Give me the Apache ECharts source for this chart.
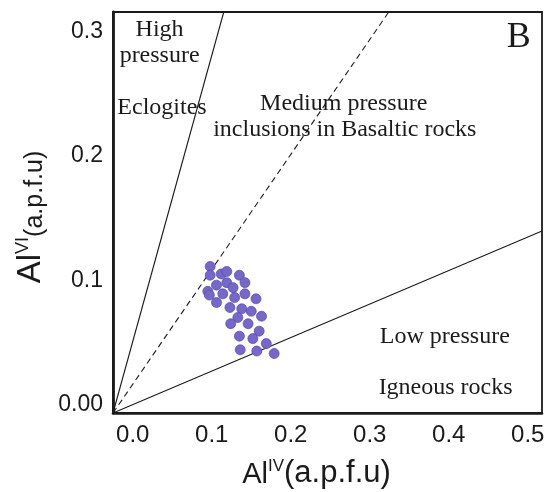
<!DOCTYPE html>
<html>
<head>
<meta charset="utf-8">
<script src="https://cdn.jsdelivr.net/npm/echarts@6/dist/echarts.min.js"></script>
<style>
  html, body { margin: 0; padding: 0; background: #fff; }
  #chart { width: 548px; height: 492px; }
</style>
</head>
<body>
<div id="chart"></div>
<script>
// Axis ranges (the diagram's field lines radiate from the lower-left corner)
const xMin = -0.025, xMax = 0.518;
const yMin = -0.0068, yMax = 0.3156;
const xTicks = [0, 0.1, 0.2, 0.3, 0.4, 0.5];
const yTicks = [0, 0.1, 0.2, 0.3];

// Amphibole analyses: AlIV vs AlVI (a.p.f.u)
const alIV = [0.098, 0.098, 0.112, 0.119, 0.135, 0.142, 0.106, 0.119, 0.095, 0.127,
              0.114, 0.097, 0.106, 0.129, 0.142, 0.156, 0.123, 0.138, 0.150, 0.133,
              0.163, 0.124, 0.146, 0.160, 0.135, 0.152, 0.169, 0.136, 0.157, 0.179];
const alVI = [0.111, 0.104, 0.105, 0.107, 0.104, 0.098, 0.096, 0.098, 0.091, 0.094,
              0.089, 0.088, 0.082, 0.086, 0.089, 0.085, 0.078, 0.077, 0.075, 0.070,
              0.071, 0.065, 0.065, 0.059, 0.055, 0.053, 0.049, 0.044, 0.043, 0.041];

// Field boundaries: end points on the frame
const highLine = [[xMin, yMin], [0.1152, yMax]];
const mediumLine = [[xMin, yMin], [0.324, yMax]];
const lowLine = [[xMin, yMin], [xMax, 0.1396]];

// Field names placed in data space
const fieldLabels = [
  { name: 'High\npressure', value: [0.034, 0.2911] },
  { name: 'Eclogites', value: [0.037, 0.2384] },
  { name: 'Medium pressure', value: [0.267, 0.2416] },
  { name: 'inclusions in Basaltic rocks', value: [0.2684, 0.2207] },
  { name: 'Low pressure', value: [0.395, 0.0543] },
  { name: 'Igneous rocks', value: [0.396, 0.0133] }
];
const panelLetter = [{ name: 'B', value: [0.4886, 0.2947] }];

const points = alIV.map((x, i) => [x, alVI[i]]);

const chart = echarts.init(document.getElementById('chart'), null, { renderer: 'canvas' });

const sans = 'Liberation Sans, Arial, sans-serif';
const serif = 'Liberation Serif, Times New Roman, serif';
const ink = '#1a1a1a';

chart.setOption({
  animation: false,
  backgroundColor: '#ffffff',
  grid: {
    left: 113, right: 6, top: 12, bottom: 79,
    containLabel: false, outerBoundsMode: 'none',
    show: true, borderColor: ink, borderWidth: 1.8, backgroundColor: 'transparent'
  },
  xAxis: {
    type: 'value', min: xMin, max: xMax,
    axisLine: { show: true, onZero: false, lineStyle: { color: ink, width: 2.6 } },
    axisTick: { show: false },
    splitLine: { show: false },
    axisLabel: {
      customValues: xTicks,
      color: ink, fontFamily: sans, fontSize: 24, margin: 10,
      formatter: v => v.toFixed(1)
    },
    name: '{al|Al}{sup|IV}{pf|(a.p.f.u)}',
    nameLocation: 'middle',
    nameGap: 45,
    nameTextStyle: {
      padding: [0, 22, 0, 0],
      rich: {
        al: { fontFamily: sans, fontSize: 29, color: ink, verticalAlign: 'bottom' },
        sup: { fontFamily: sans, fontSize: 17, color: ink, verticalAlign: 'top' },
        pf: { fontFamily: sans, fontSize: 31, color: ink, verticalAlign: 'bottom' }
      }
    }
  },
  yAxis: {
    type: 'value', min: yMin, max: yMax,
    axisLine: { show: true, onZero: false, lineStyle: { color: ink, width: 2.8 } },
    axisTick: { show: false },
    splitLine: { show: false },
    axisLabel: {
      customValues: yTicks,
      color: ink, fontFamily: sans, fontSize: 23, margin: 10,
      formatter: v => (v === 0 ? '0.00' : v.toFixed(1))
    },
    name: '{al|Al}{sup|VI}{pf|(a.p.f.u)}',
    nameLocation: 'middle',
    nameGap: 50,
    nameRotate: 90,
    nameTextStyle: {
      padding: [0, 9, 0, 0],
      rich: {
        al: { fontFamily: sans, fontSize: 33, color: ink, verticalAlign: 'bottom' },
        sup: { fontFamily: sans, fontSize: 18, color: ink, verticalAlign: 'top' },
        pf: { fontFamily: sans, fontSize: 25, color: ink, verticalAlign: 'bottom' }
      }
    }
  },
  series: [
    {
      type: 'line', data: highLine, symbol: 'none', silent: true, z: 2,
      lineStyle: { color: ink, width: 1.1 }
    },
    {
      type: 'line', data: mediumLine, symbol: 'none', silent: true, z: 2,
      lineStyle: { color: ink, width: 1.1, type: [6, 4] }
    },
    {
      type: 'line', data: lowLine, symbol: 'none', silent: true, z: 2,
      lineStyle: { color: ink, width: 1.1 }
    },
    {
      type: 'scatter', data: points, symbol: 'circle', symbolSize: 10, z: 5,
      itemStyle: { color: '#7568c8', borderColor: '#5449a8', borderWidth: 0.7, opacity: 1 }
    },
    {
      type: 'scatter', data: fieldLabels, symbolSize: 0, silent: true, z: 4,
      itemStyle: { opacity: 1 },
      label: {
        show: true, position: 'inside', formatter: p => p.name,
        fontFamily: serif, fontSize: 24, lineHeight: 26, color: ink, align: 'center'
      }
    },
    {
      type: 'scatter', data: panelLetter, symbolSize: 0, silent: true, z: 4,
      itemStyle: { opacity: 1 },
      label: {
        show: true, position: 'inside', formatter: p => p.name,
        fontFamily: serif, fontSize: 36, color: ink
      }
    }
  ]
});
</script>
</body>
</html>
